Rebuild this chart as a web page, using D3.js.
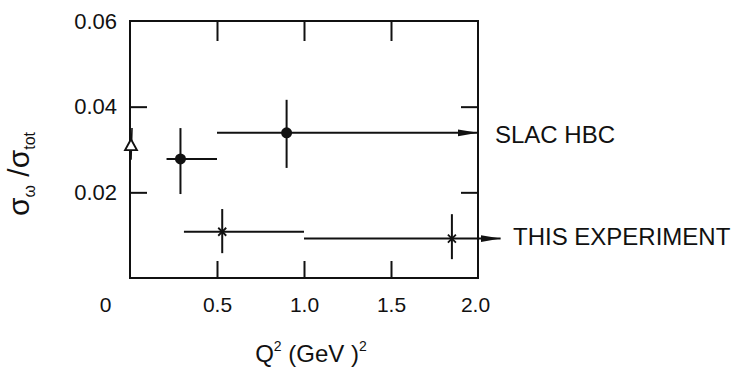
<!DOCTYPE html>
<html lang="en">
  <head>
    <meta charset="utf-8">
    <title>omega / total cross section ratio vs Q2</title>
    <script src="https://d3js.org/d3.v7.min.js"></script>
    <style>
      body { margin: 0; background: #fff; }
      text { font-family: "Liberation Sans", Arial, sans-serif; fill: #111; }
    </style>
  </head>
  <body>
    <script>
      // SLAC HBC points (filled circles)
      var slacQ2 = [0.29, 0.90];
      var slacRatio = [0.0278, 0.0339];
      var slacQ2Lo = [0.21, 0.50];
      var slacQ2Hi = [0.50, 2.00];
      var slacErrLo = [0.0196, 0.0257];
      var slacErrHi = [0.0350, 0.0416];

      // this experiment (asterisks)
      var expQ2 = [0.53, 1.85];
      var expRatio = [0.0108, 0.0092];
      var expQ2Lo = [0.31, 1.00];
      var expQ2Hi = [1.00, 2.13];
      var expErrLo = [0.0058, 0.0044];
      var expErrHi = [0.0161, 0.0149];

      // photoproduction point at Q2 = 0 (open triangle)
      var photoQ2 = [0];
      var photoRatio = [0.031];
      var photoErrLo = [0.0276];
      var photoErrHi = [0.0350];

      var xTicks = [0, 0.5, 1.0, 1.5, 2.0];
      var yTicks = [0.02, 0.04, 0.06];

      var width = 735, height = 370;
      var pLeft = 130, pRight = 478, pTop = 21, pBottom = 278;

      var svg = d3.select("body").append("svg")
        .attr("width", width)
        .attr("height", height);

      var ink = "#111";

      svg.append("defs").append("marker")
        .attr("id", "arrow")
        .attr("viewBox", "0 0 20 8")
        .attr("refX", 20).attr("refY", 4)
        .attr("markerWidth", 20).attr("markerHeight", 8)
        .attr("markerUnits", "userSpaceOnUse")
        .attr("orient", "auto")
        .append("path")
        .attr("d", "M0,0.6 L20,4 L0,7.4 Z")
        .attr("fill", ink);

      var x = d3.scaleLinear().domain([0, 2]).range([pLeft, pRight]);
      var y = d3.scaleLinear().domain([0, 0.06]).range([pBottom, pTop]);

      // frame
      svg.append("rect")
        .attr("x", pLeft).attr("y", pTop)
        .attr("width", pRight - pLeft).attr("height", pBottom - pTop)
        .attr("fill", "none").attr("stroke", ink).attr("stroke-width", 2);

      var fmtX = function(d) { return d === 0 ? "0" : d3.format(".1f")(d); };

      var xAxis = svg.append("g")
        .attr("transform", "translate(0," + pBottom + ")")
        .call(d3.axisBottom(x).tickValues(xTicks).tickFormat(fmtX).tickSizeInner(-17).tickSizeOuter(0).tickPadding(19));
      xAxis.select(".domain").remove();
      xAxis.selectAll(".tick line")
        .attr("stroke", ink).attr("stroke-width", 2)
        .attr("display", function(d) { return (d === 0 || d === 2) ? "none" : null; });
      xAxis.selectAll(".tick text")
        .attr("font-size", 21)
        .attr("dx", function(d) { return d === 0 ? -25 : (d === 2 ? -3 : 0); });

      var yAxis = svg.append("g")
        .attr("transform", "translate(" + pLeft + ",0)")
        .call(d3.axisLeft(y).tickValues(yTicks).tickFormat(d3.format(".2f")).tickSizeInner(-17).tickSizeOuter(0).tickPadding(13));
      yAxis.select(".domain").remove();
      yAxis.selectAll(".tick line")
        .attr("stroke", ink).attr("stroke-width", 2)
        .attr("display", function(d) { return d === 0.06 ? "none" : null; });
      yAxis.selectAll(".tick text").attr("font-size", 22);

      var topAxis = svg.append("g")
        .attr("transform", "translate(0," + pTop + ")")
        .call(d3.axisTop(x).tickValues([0.5, 1.0, 1.5]).tickFormat("").tickSizeInner(-20).tickSizeOuter(0));
      topAxis.select(".domain").remove();
      topAxis.selectAll(".tick line").attr("stroke", ink).attr("stroke-width", 2);

      var rightAxis = svg.append("g")
        .attr("transform", "translate(" + pRight + ",0)")
        .call(d3.axisRight(y).tickValues([0.02, 0.04]).tickFormat("").tickSizeInner(-17).tickSizeOuter(0));
      rightAxis.select(".domain").remove();
      rightAxis.selectAll(".tick line").attr("stroke", ink).attr("stroke-width", 2);

      // axis titles
      var xt = svg.append("text")
        .attr("x", 311).attr("y", 362)
        .attr("text-anchor", "middle")
        .attr("font-size", 24);
      xt.append("tspan").text("Q");
      xt.append("tspan").attr("dy", -11).attr("font-size", 14).text("2");
      xt.append("tspan").attr("dy", 11).text(" (GeV )");
      xt.append("tspan").attr("dy", -11).attr("font-size", 14).text("2");

      var yt = svg.append("text")
        .attr("transform", "translate(29,174) rotate(-90)")
        .attr("text-anchor", "middle")
        .attr("font-size", 30);
      yt.append("tspan").text("σ");
      yt.append("tspan").attr("dy", 6).attr("font-size", 16).text("ω");
      yt.append("tspan").attr("dy", -6).text(" /σ");
      yt.append("tspan").attr("dy", 6).attr("font-size", 16).text("tot");

      function drawSeries(q2, r, lo, hi, elo, ehi, arrowLast) {
        var g = svg.append("g");
        var idx = d3.range(q2.length);
        g.selectAll("line.h").data(idx).enter().append("line")
          .attr("class", "h")
          .attr("x1", function(i) { return x(lo[i]); })
          .attr("x2", function(i) { return x(hi[i]); })
          .attr("y1", function(i) { return y(r[i]); })
          .attr("y2", function(i) { return y(r[i]); })
          .attr("stroke", ink).attr("stroke-width", 2)
          .attr("marker-end", function(i) { return (arrowLast && i === q2.length - 1) ? "url(#arrow)" : null; });
        g.selectAll("line.v").data(idx).enter().append("line")
          .attr("class", "v")
          .attr("x1", function(i) { return x(q2[i]); })
          .attr("x2", function(i) { return x(q2[i]); })
          .attr("y1", function(i) { return y(elo[i]); })
          .attr("y2", function(i) { return y(ehi[i]); })
          .attr("stroke", ink).attr("stroke-width", 2);
        return g;
      }

      var slac = drawSeries(slacQ2, slacRatio, slacQ2Lo, slacQ2Hi, slacErrLo, slacErrHi, true);
      slac.selectAll("circle").data(d3.range(slacQ2.length)).enter().append("circle")
        .attr("cx", function(i) { return x(slacQ2[i]); })
        .attr("cy", function(i) { return y(slacRatio[i]); })
        .attr("r", 5.5)
        .attr("fill", ink);

      var exp = drawSeries(expQ2, expRatio, expQ2Lo, expQ2Hi, expErrLo, expErrHi, true);
      exp.selectAll("path.star").data(d3.range(expQ2.length)).enter().append("path")
        .attr("class", "star")
        .attr("d", function(i) {
          var cx = x(expQ2[i]), cy = y(expRatio[i]), s = 4;
          return "M" + (cx - s) + "," + (cy - s) + "L" + (cx + s) + "," + (cy + s) +
                 "M" + (cx - s) + "," + (cy + s) + "L" + (cx + s) + "," + (cy - s);
        })
        .attr("stroke", ink).attr("stroke-width", 1.8);

      // photoproduction point
      var ph = svg.append("g");
      ph.selectAll("line").data(d3.range(photoQ2.length)).enter().append("line")
        .attr("x1", function(i) { return x(photoQ2[i]) + 2; })
        .attr("x2", function(i) { return x(photoQ2[i]) + 1; })
        .attr("y1", function(i) { return y(photoErrHi[i]); })
        .attr("y2", function(i) { return y(photoErrLo[i]); })
        .attr("stroke", ink).attr("stroke-width", 1.6);
      ph.selectAll("path").data(d3.range(photoQ2.length)).enter().append("path")
        .attr("d", function(i) {
          var cx = x(photoQ2[i]) + 1, cy = y(photoRatio[i]);
          return "M" + cx + "," + (cy - 6) + "L" + (cx + 6) + "," + (cy + 5) + "L" + (cx - 6) + "," + (cy + 5) + "Z";
        })
        .attr("fill", "#fff").attr("stroke", ink).attr("stroke-width", 1.8);

      // series labels
      svg.append("text")
        .attr("x", 495).attr("y", y(slacRatio[1]) + 4)
        .attr("dominant-baseline", "middle")
        .attr("font-size", 24)
        .text("SLAC HBC");
      svg.append("text")
        .attr("x", 513).attr("y", y(expRatio[1]))
        .attr("dominant-baseline", "middle")
        .attr("font-size", 24)
        .text("THIS EXPERIMENT");
    </script>
  </body>
</html>
